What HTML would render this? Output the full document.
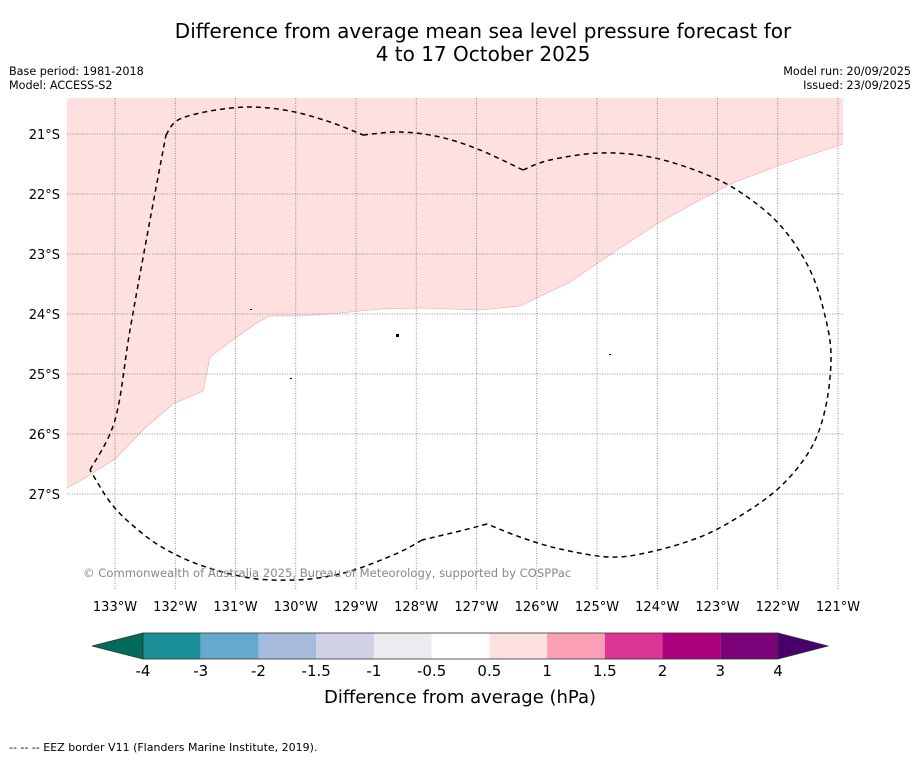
<!DOCTYPE html>
<html><head><meta charset="utf-8"><style>
body{margin:0;width:919px;height:758px;background:#fff;font-family:"DejaVu Sans","Liberation Sans",sans-serif;overflow:hidden}
</style></head><body>
<svg width="919" height="758" font-family="DejaVu Sans, Liberation Sans, sans-serif">
<text x="483" y="38" text-anchor="middle" font-size="20">Difference from average mean sea level pressure forecast for</text>
<text x="483" y="61" text-anchor="middle" font-size="20">4 to 17 October 2025</text>
<text x="9" y="75" font-size="11.2">Base period: 1981-2018</text>
<text x="9" y="89" font-size="11.2">Model: ACCESS-S2</text>
<text x="911" y="75" font-size="11.2" text-anchor="end">Model run: 20/09/2025</text>
<text x="911" y="89" font-size="11.2" text-anchor="end">Issued: 23/09/2025</text>
<g id="map"></g>
<g id="cbar"></g>
<text x="460" y="703" text-anchor="middle" font-size="18">Difference from average (hPa)</text>
<text x="9" y="751" font-size="11">--  --  -- EEZ border V11 (Flanders Marine Institute, 2019).</text>
</svg>
<script>
const NS='http://www.w3.org/2000/svg';
const lonTicks=[-133,-132,-131,-130,-129,-128,-127,-126,-125,-124,-123,-122,-121];
const latTicks=[21,22,23,24,25,26,27];
const anomalyBounds=[-4,-3,-2,-1.5,-1,-0.5,0.5,1,1.5,2,3,4];
const anomalyColors=['#1b8f98','#66a9cf','#a6bbdb','#d0d1e6','#ecebef','#ffffff','#fde0df','#fa9fb5','#dd3497','#ae017e','#7a0177'];
const X=lon=>115+(lon+133)*60.25;
const Y=s=>134+(s-21)*60;
const map=document.getElementById('map');
function el(t,a,p){const e=document.createElementNS(NS,t);for(const k in a)e.setAttribute(k,a[k]);(p||map).appendChild(e);return e;}
function smooth(pts){let d='M'+pts[0].join(',');for(let i=0;i<pts.length-1;i++){const p0=pts[Math.max(i-1,0)],p1=pts[i],p2=pts[i+1],p3=pts[Math.min(i+2,pts.length-1)];
 const c1=[p1[0]+(p2[0]-p0[0])/6,p1[1]+(p2[1]-p0[1])/6],c2=[p2[0]-(p3[0]-p1[0])/6,p2[1]-(p3[1]-p1[1])/6];
 d+=` C${c1[0].toFixed(1)},${c1[1].toFixed(1)} ${c2[0].toFixed(1)},${c2[1].toFixed(1)} ${p2[0]},${p2[1]}`;}return d;}
const pinkEdge=[[843,144],[780,165],[735,182],[700,200],[660,222],[620,248],[570,282],[520,306],[480,310],[420,308],[380,309],[330,314],[300,316],[270,316],[255,324],[230,342],[210,357],[203,391],[173,404],[145,428],[115,459],[85,478],[67,488]];
let p=el('polygon',{points:[[67,98],[843,98],...pinkEdge].map(q=>q.join(',')).join(' '),fill:'#fde0df'});


let pe=el('polyline',{points:pinkEdge.map(q=>q.join(',')).join(' '),fill:'none',stroke:'#e8a8a8','stroke-width':0.6});

lonTicks.forEach(l=>{const x=X(l);
 let g=el('line',{x1:x,x2:x,y1:98,y2:590,stroke:'#777','stroke-width':0.8,'stroke-dasharray':'1,1.5'});
 
 let t=el('text',{x:x,y:611,'text-anchor':'middle','font-size':13});t.textContent=Math.abs(l)+'°W';
 });
latTicks.forEach(s=>{const y=Y(s);
 let g=el('line',{x1:67,x2:843,y1:y,y2:y,stroke:'#777','stroke-width':0.8,'stroke-dasharray':'1,1.5'});
 
 let t=el('text',{x:60,y:y+5,'text-anchor':'end','font-size':13});t.textContent=s+'°S';
 });
const eezA=[[90,470],[115,420],[130,330],[150,220],[166,135]];
const eezB=[[166,135],[178,120],[210,111],[250,107],[290,111],[330,122],[363,135]];
const eezC=[[363,135],[400,132],[440,137],[480,150],[523,170]];
const eezD=[[523,170],[550,160],[600,153],[650,157],[700,172],[740,192],[780,225],[810,270],[826,320],[831,360],[825,410],[810,450],[780,487],[740,516],[700,537],[650,552],[610,557],[560,549],[520,537],[487,524]];
const eezE=[[487,524],[460,531],[422,540]];
const eezF=[[422,540],[400,552],[360,568],[330,576],[295,580],[250,578],[200,565],[160,546],[130,523],[110,502],[90,470]];
const d=[eezA,eezB,eezC,eezD,eezE,eezF].map(s=>smooth(s)).join(' ');
let e=el('path',{d:d,fill:'none',stroke:'#000','stroke-width':1.5,'stroke-dasharray':'5,4'});

[[250,309,2,1],[396,334,3,3],[609,354,2,1],[290,378,2,1]].forEach(r=>{let dd=el('rect',{x:r[0],y:r[1],width:r[2],height:r[3],fill:'#000'});
 });
let c=el('text',{x:83,y:577,'font-size':11.6,fill:'#888'});c.textContent='© Commonwealth of Australia 2025, Bureau of Meteorology, supported by COSPPac';

const cb=document.getElementById('cbar');
const cx0=143,cx1=778,cy0=633,cy1=659,n=anomalyColors.length,w=(cx1-cx0)/n;
let la=el('polygon',{points:`${cx0},${cy0} ${cx0},${cy1} 92,646`,fill:'#016c59',stroke:'#333','stroke-width':0.8},cb);

let ra=el('polygon',{points:`${cx1},${cy0} ${cx1},${cy1} 828,646`,fill:'#49006a',stroke:'#333','stroke-width':0.8},cb);

anomalyColors.forEach((col,i)=>{let r=el('rect',{x:cx0+i*w,y:cy0,width:w,height:cy1-cy0,fill:col},cb);
 });
el('rect',{x:cx0,y:cy0,width:cx1-cx0,height:cy1-cy0,fill:'none',stroke:'#333','stroke-width':0.8},cb);
anomalyBounds.forEach((b,i)=>{let t=el('text',{x:cx0+i*w,y:676,'text-anchor':'middle','font-size':15},cb);t.textContent=b;
 });
</script>
</body></html>
